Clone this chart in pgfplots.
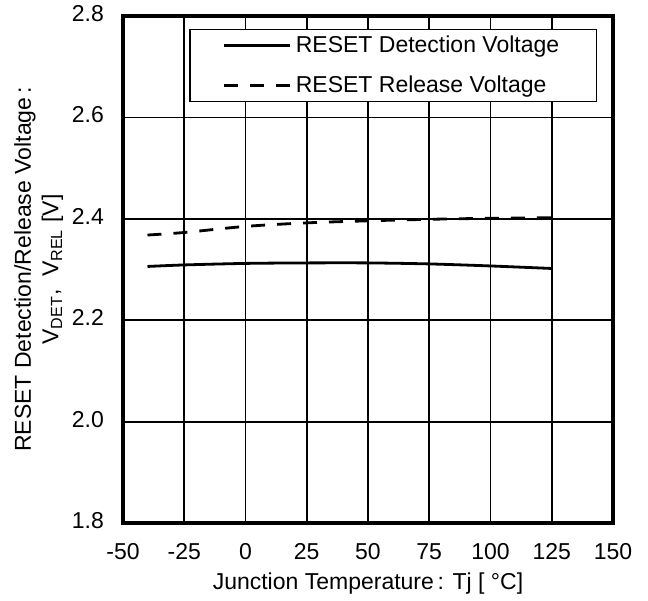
\documentclass[border=0pt]{standalone}
\usepackage{fontspec}
\setmainfont{Liberation Sans}
\usepackage{pgfplots}
\pgfplotsset{compat=1.18}
\begin{document}
\begin{tikzpicture}[font=\fontsize{11.5}{13.8}\selectfont]
\begin{axis}[
  name=ax,
  scale only axis,
  width=245pt, height=253.5pt,
  xmin=-50, xmax=150, ymin=1.8, ymax=2.8,
  xtick={-50,-25,0,25,50,75,100,125,150},
  ytick={1.8,2.0,2.2,2.4,2.6,2.8},
  /pgf/number format/assume math mode=true,
  typeset ticklabels with strut,
  yticklabel style={/pgf/number format/fixed, /pgf/number format/fixed zerofill, /pgf/number format/precision=1, xshift=-6pt},
  xticklabel style={yshift=-5pt},
  tick style={draw=none},
  grid=major,
  grid style={black, line width=0.9pt},
  axis line style={line width=1.9pt},
  xlabel={Junction Temperature\,: Tj [ °C]},
  xlabel style={at={(axis description cs:0.5,-0.12)}, anchor=center},
  ylabel={RESET Detection/Release Voltage\,:\\V\textsubscript{DET},\ \ V\textsubscript{REL} [V]},
  ylabel style={at={(axis description cs:-0.172,0.5)}, anchor=center, align=center},
  legend style={at={(rel axis cs:0.967,0.974)}, anchor=north east, draw=black, line width=0.6pt, fill=white,
    inner xsep=16.5pt, inner ysep=1pt, row sep=6pt, nodes={inner sep=2pt}},
  legend cell align=left,
  legend image code/.code={\draw[#1] (0pt,0pt) -- (33pt,0pt);},
]
\addplot[black, line width=1.4pt, smooth] coordinates {
  (-40,2.306) (-25,2.309) (0,2.312) (25,2.313) (50,2.313) (75,2.311) (100,2.307) (125,2.302)
};
\addlegendentry{RESET Detection Voltage}
\addplot[black, line width=1.4pt, smooth, dash pattern=on 7pt off 6pt] coordinates {
  (-40,2.368) (-25,2.373) (0,2.385) (25,2.392) (50,2.396) (75,2.399) (100,2.401) (125,2.402)
};
\addlegendentry{RESET Release Voltage}
\end{axis}
\pgfresetboundingbox
\path ([shift={(-61.5pt,-38.5pt)}]ax.south west) rectangle ([shift={(17.5pt,8pt)}]ax.north east);
\end{tikzpicture}
\end{document}
